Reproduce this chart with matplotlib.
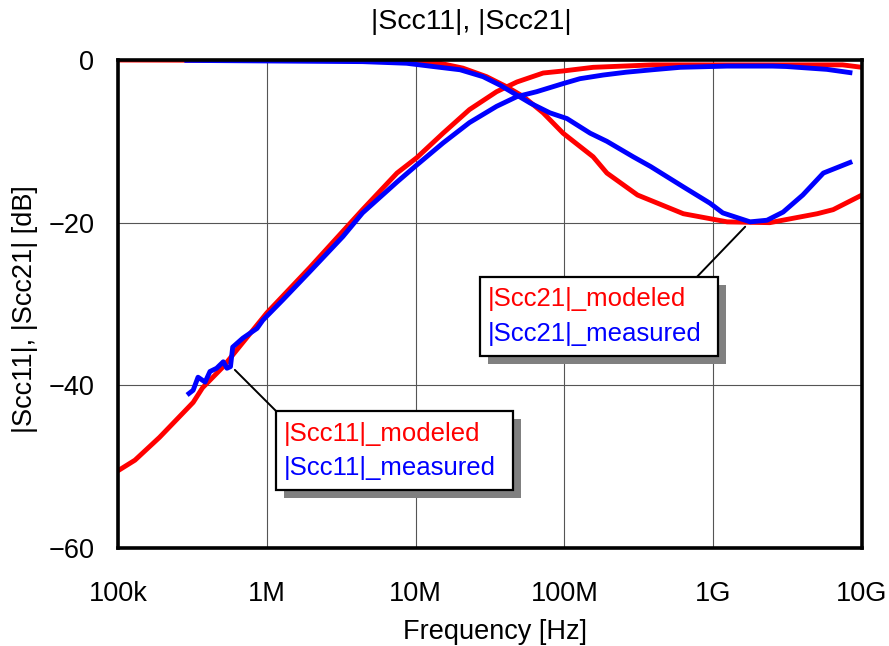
import matplotlib
matplotlib.use('Agg')
import matplotlib.pyplot as plt
from matplotlib.patches import Rectangle

plt.rcParams['font.family'] = ['Liberation Sans', 'DejaVu Sans']

# |Scc11| modeled (red) / measured (blue)
scc11_mod_f = [1e5, 1.3e5, 1.9e5, 3.2e5, 3.7e5, 5.1e5, 1.0e6, 1.95e6, 4.4e6, 7.5e6, 1.02e7,
               1.53e7, 2.3e7, 3.5e7, 4.8e7, 7.2e7, 9.8e7, 1.56e8, 3.9e8, 1.24e9, 7.4e9, 1e10]
scc11_mod_db = [-50.5, -49.2, -46.4, -42.1, -40.3, -37.7, -31.1, -25.5, -18.4, -13.9, -12.0,
                -9.0, -6.1, -3.9, -2.7, -1.6, -1.35, -0.9, -0.6, -0.6, -0.6, -0.9]

scc11_meas_f = [3.0e5, 3.2e5, 3.45e5, 3.85e5, 4.15e5, 4.6e5, 5.1e5, 5.4e5, 5.7e5, 5.9e5, 6.9e5,
                8.6e5, 9.4e5, 1.28e6, 1.95e6, 3.25e6, 4.4e6, 7.5e6, 1.02e7, 1.53e7, 2.3e7,
                3.5e7, 4.8e7, 6.5e7, 9.8e7, 1.27e8, 1.82e8, 2.6e8, 3.9e8, 6.0e8, 1.24e9,
                2.5e9, 3.1e9, 5.8e9, 8.3e9]
scc11_meas_db = [-41.0, -40.6, -39.0, -39.6, -38.3, -37.9, -37.1, -37.9, -37.7, -35.3, -34.2,
                 -33.0, -32.0, -29.5, -26.0, -21.7, -18.8, -15.0, -12.9, -10.2, -7.7,
                 -5.7, -4.5, -3.9, -2.9, -2.3, -1.85, -1.5, -1.2, -0.9, -0.75,
                 -0.75, -0.8, -1.15, -1.55]

# |Scc21| modeled (red) / measured (blue)
scc21_mod_f = [1e5, 1e6, 9.2e6, 1.46e7, 2.08e7, 3.0e7, 4.1e7, 5.3e7, 7.2e7, 9.8e7, 1.56e8,
               1.93e8, 3.1e8, 6.3e8, 1.24e9, 2.4e9, 5.0e9, 6.4e9, 1e10]
scc21_mod_db = [0.0, -0.05, -0.1, -0.4, -1.0, -2.05, -3.3, -4.5, -6.5, -9.0, -11.9,
                -13.9, -16.6, -18.9, -19.9, -20.0, -18.9, -18.4, -16.6]

scc21_meas_f = [2.9e5, 4.4e6, 8.7e6, 1.31e7, 1.99e7, 2.84e7, 3.7e7, 5.9e7, 8.0e7, 1.04e8,
                1.49e8, 1.93e8, 2.9e8, 3.8e8, 6.3e8, 9.5e8, 1.16e9, 1.77e9, 2.3e9, 2.95e9,
                4.0e9, 5.5e9, 8.3e9]
scc21_meas_db = [-0.05, -0.2, -0.4, -0.8, -1.2, -2.05, -3.1, -5.3, -6.5, -7.2,
                 -9.0, -10.0, -11.9, -13.1, -15.6, -17.6, -18.8, -19.9, -19.7, -18.7,
                 -16.6, -13.9, -12.6]

x_ticks = [1e5, 1e6, 1e7, 1e8, 1e9, 1e10]
x_labels = ['100k', '1M', '10M', '100M', '1G', '10G']
y_ticks = [-60, -40, -20, 0]

RED = '#ff0000'
BLUE = '#0000ff'

fig = plt.figure(figsize=(8.89, 6.46), dpi=100)
ax = fig.add_axes([118 / 889, 98 / 646, 744 / 889, 488 / 646])

ax.plot(scc11_mod_f, scc11_mod_db, color=RED, lw=3.5)
ax.plot(scc21_mod_f, scc21_mod_db, color=RED, lw=3.5)
ax.plot(scc11_meas_f, scc11_meas_db, color=BLUE, lw=3.5)
ax.plot(scc21_meas_f, scc21_meas_db, color=BLUE, lw=3.5)

ax.set_xscale('log')
ax.set_xlim(1e5, 1e10)
ax.set_ylim(-60, 0)
ax.set_xticks(x_ticks)
ax.set_xticklabels(x_labels)
ax.minorticks_off()
ax.set_yticks(y_ticks)
ax.tick_params(axis='both', length=0, labelsize=19.5)
ax.tick_params(axis='x', pad=24)
ax.tick_params(axis='y', pad=17)
ax.grid(True, color='#555555', lw=0.8)
for s in ax.spines.values():
    s.set_linewidth(2.6)

fig.text(471 / 889, 1 - 22 / 646, '|Scc11|, |Scc21|', ha='center', va='center', fontsize=20.5)
fig.text(25 / 889, 1 - 309 / 646, '|Scc11|, |Scc21| [dB]', ha='center', va='center',
         rotation=90, fontsize=19.5)
fig.text(495 / 889, 1 - 632 / 646, 'Frequency [Hz]', ha='center', va='center', fontsize=19.5)


def callout(x0, y0, x1, y1, lines, point, anchor):
    # leader line from curve to box
    ax.annotate('', xy=point, xycoords='data', xytext=anchor, textcoords='axes fraction',
                arrowprops=dict(arrowstyle='-', color='black', lw=1.4, shrinkA=0, shrinkB=0),
                zorder=5)
    w, h = x1 - x0, y1 - y0
    ax.add_patch(Rectangle((x0 + 0.0108, y0 - 0.0164), w, h, transform=ax.transAxes,
                           facecolor='#808080', edgecolor='none', clip_on=False, zorder=6))
    ax.add_patch(Rectangle((x0, y0), w, h, transform=ax.transAxes, facecolor='white',
                           edgecolor='black', lw=1.6, clip_on=False, zorder=7))
    for txt, col, ty in lines:
        ax.text(x0 + 0.011, ty, txt, color=col, fontsize=18.5, ha='left', va='center',
                transform=ax.transAxes, zorder=8)


callout(0.4866, 0.3934, 0.8065, 0.5553,
        [('|Scc21|_modeled', RED, 0.5102), ('|Scc21|_measured', BLUE, 0.4385)],
        (1.64e9, -20.5), (0.778, 0.5553))
callout(0.2124, 0.1189, 0.5309, 0.2807,
        [('|Scc11|_modeled', RED, 0.2336), ('|Scc11|_measured', BLUE, 0.1639)],
        (6.1e5, -38.1), (0.2124, 0.2807))

fig.savefig('out.png', dpi=100)
